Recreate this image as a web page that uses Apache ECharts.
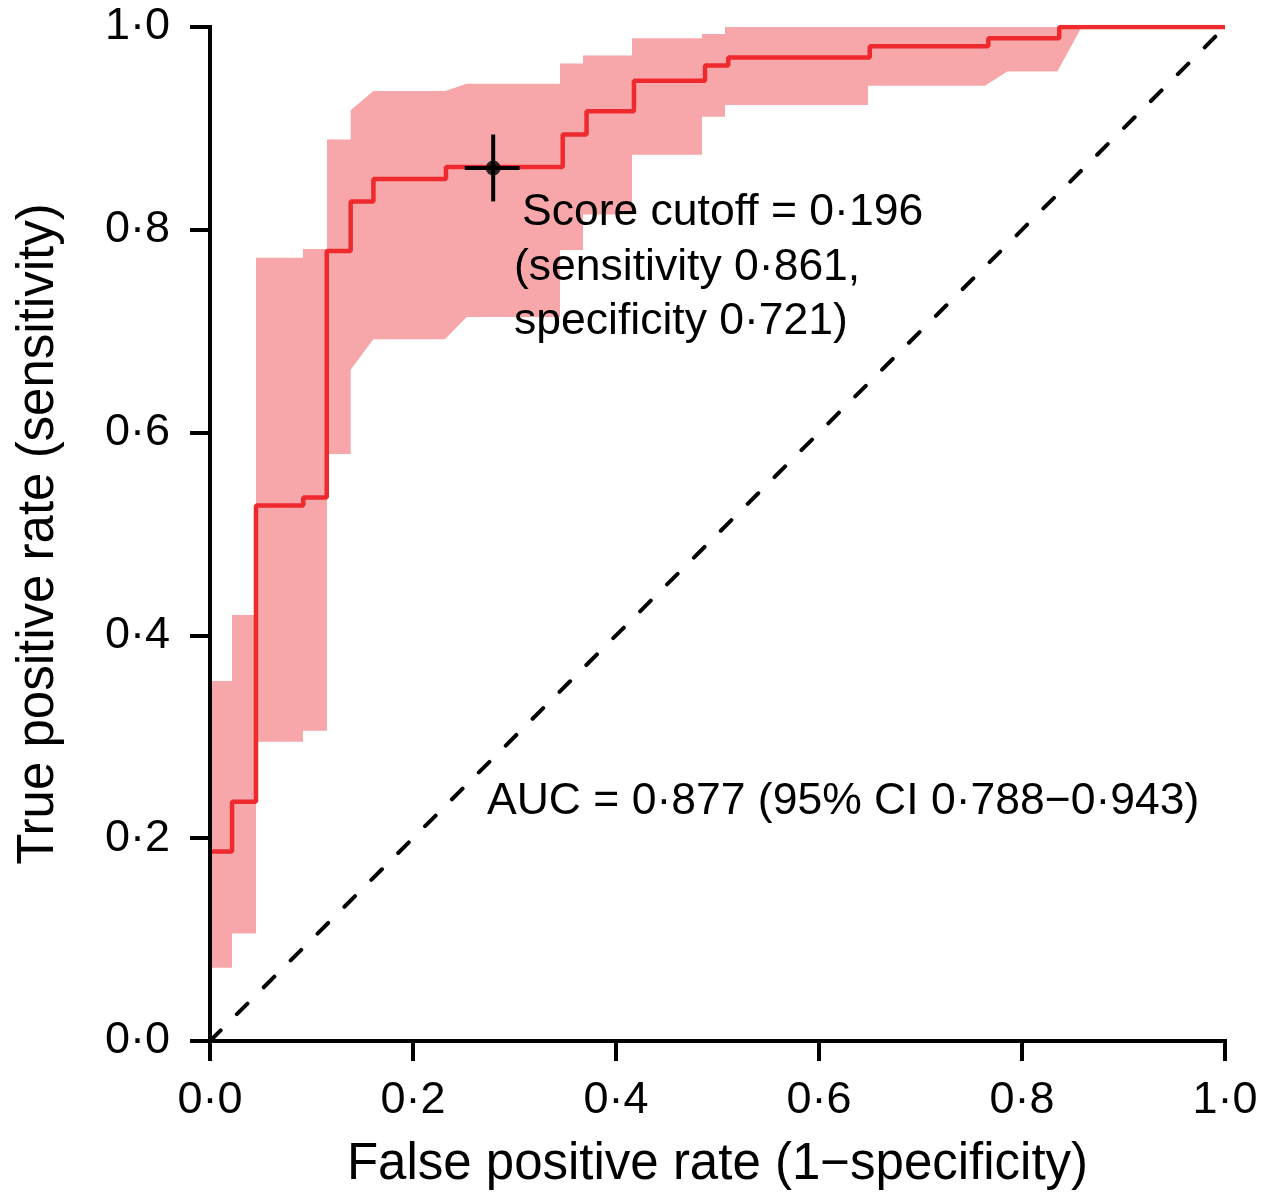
<!DOCTYPE html>
<html><head><meta charset="utf-8">
<script src="https://cdn.jsdelivr.net/npm/echarts/dist/echarts.min.js"></script>
<style>html,body{margin:0;padding:0;background:#fff}#c{width:1272px;height:1196px}</style>
</head><body><div id="c"></div>
<script>
// ROC curve (step points: FPR, TPR)
const rocFPR = [0, 0.0217, 0.0453, 0.0919, 0.115, 0.1386, 0.161, 0.2325, 0.3475, 0.371, 0.4177, 0.4877, 0.5106, 0.650, 0.7668, 0.8367, 1.0];
const rocTPR = [0.187, 0.236, 0.528, 0.536, 0.779, 0.828, 0.850, 0.862, 0.894, 0.917, 0.947, 0.962, 0.970, 0.981, 0.989, 1.0, 1.0];

// 95% CI band, upper boundary vertices
const bandUpperFPR = [0, 0.0217, 0.0217, 0.0453, 0.0453, 0.0916, 0.0916, 0.1153, 0.1153, 0.1386, 0.1386, 0.1609, 0.2315, 0.2529, 0.3448, 0.3448, 0.3675, 0.3675, 0.4158, 0.4158, 0.4847, 0.4847, 0.5074, 0.5074, 1.0];
const bandUpperTPR = [0.355, 0.355, 0.420, 0.420, 0.7725, 0.7725, 0.781, 0.781, 0.889, 0.889, 0.918, 0.937, 0.937, 0.944, 0.944, 0.964, 0.964, 0.972, 0.972, 0.989, 0.989, 0.993, 0.993, 1.0, 1.0];
// 95% CI band, lower boundary vertices
const bandLowerFPR = [0, 0.0217, 0.0217, 0.0453, 0.0453, 0.0916, 0.0916, 0.1153, 0.1153, 0.1386, 0.1386, 0.1609, 0.2315, 0.2529, 0.3448, 0.3448, 0.3675, 0.3675, 0.4158, 0.4158, 0.4847, 0.4847, 0.5074, 0.5074, 0.6483, 0.6483, 0.7635, 0.7855, 0.8348, 0.8588, 1.0];
const bandLowerTPR = [0.0723, 0.0723, 0.106, 0.106, 0.295, 0.295, 0.306, 0.306, 0.579, 0.579, 0.662, 0.692, 0.692, 0.714, 0.714, 0.780, 0.780, 0.815, 0.815, 0.874, 0.874, 0.9115, 0.9115, 0.923, 0.923, 0.942, 0.942, 0.956, 0.956, 1.0, 1.0];

// cutoff point and its CI cross
const cutoffPoint = [0.279, 0.861];
const cutoffTPRRange = [0.828, 0.894];
const cutoffFPRRange = [0.251, 0.305];

// chance diagonal
const diagonal = [[0, 0], [1, 1]];

// axis ticks
const tickValues = [0, 0.2, 0.4, 0.6, 0.8, 1.0];
const tickLabels = ['0·0', '0·2', '0·4', '0·6', '0·8', '1·0'];

// annotations
const cutoffLines = ['Score cutoff = 0·196', '(sensitivity 0·861,', 'specificity 0·721)'];
const aucText = 'AUC = 0·877 (95% CI 0·788−0·943)';

const FONT = "'Liberation Sans', Arial, Helvetica, sans-serif";
const chart = echarts.init(document.getElementById('c'), null, {renderer: 'canvas'});

function fmt(v) {
  const i = tickValues.findIndex(t => Math.abs(t - v) < 1e-9);
  return i >= 0 ? tickLabels[i] : '';
}

const axisCommon = {
  type: 'value', min: 0, max: 1, interval: 0.2, z: 10,
  axisLine: {show: true, lineStyle: {color: '#000', width: 4, cap: 'square'}},
  axisTick: {show: true, length: 20, lineStyle: {color: '#000', width: 4}},
  splitLine: {show: false},
  nameLocation: 'middle',
  nameTextStyle: {color: '#000', fontSize: 51, fontFamily: FONT},
};

chart.setOption({
  animation: false,
  backgroundColor: '#fff',
  grid: {left: 210, right: 47, top: 27, bottom: 155, containLabel: false},
  xAxis: Object.assign({}, axisCommon, {
    name: 'False positive rate (1−specificity)', nameGap: 98,
    axisLabel: {color: '#000', fontSize: 45, fontFamily: FONT, margin: 37, formatter: fmt}
  }),
  yAxis: Object.assign({}, axisCommon, {
    name: 'True positive rate (sensitivity)', nameGap: 146,
    axisLabel: {color: '#000', fontSize: 45, fontFamily: FONT, margin: 40, formatter: fmt}
  }),
  series: [
    {
      type: 'custom', z: 1, silent: true, clip: false,
      data: [[0, 0]],
      renderItem: function (params, api) {
        const pts = [];
        for (let i = 0; i < bandUpperFPR.length; i++) pts.push(api.coord([bandUpperFPR[i], bandUpperTPR[i]]));
        for (let i = bandLowerFPR.length - 1; i >= 0; i--) pts.push(api.coord([bandLowerFPR[i], bandLowerTPR[i]]));
        return {type: 'polygon', shape: {points: pts}, style: {fill: '#f7a7a9', stroke: null}};
      }
    },
    {
      type: 'line', z: 2, data: diagonal, showSymbol: false, silent: true,
      lineStyle: {color: '#000', width: 4, type: [15, 23], cap: 'round'}
    },
    {
      type: 'line', z: 3, step: 'end', showSymbol: false, silent: true,
      data: rocFPR.map((x, i) => [x, rocTPR[i]]),
      lineStyle: {color: '#ee2a2e', width: 4.5}
    },
    {
      type: 'line', z: 4, showSymbol: false, silent: true,
      data: [[cutoffPoint[0], cutoffTPRRange[0]], [cutoffPoint[0], cutoffTPRRange[1]]],
      lineStyle: {color: '#000', width: 4}
    },
    {
      type: 'line', z: 4, showSymbol: false, silent: true,
      data: [[cutoffFPRRange[0], cutoffPoint[1]], [cutoffFPRRange[1], cutoffPoint[1]]],
      lineStyle: {color: '#000', width: 4}
    },
    {
      type: 'scatter', z: 5, silent: true, data: [cutoffPoint],
      symbolSize: 15, itemStyle: {color: '#000'}
    }
  ]
});

// annotation text placed in data coordinates
const annPos = [[0.3074, 0.8166], [0.2995, 0.7623], [0.2995, 0.709]];
const aucPos = [0.2729, 0.2357];
const g = [];
cutoffLines.forEach((t, i) => {
  const p = chart.convertToPixel({gridIndex: 0}, annPos[i]);
  g.push({type: 'text', x: p[0], y: p[1], z: 20,
    style: {text: t, fill: '#000', font: '44.5px ' + FONT, textAlign: 'left', textVerticalAlign: 'middle'}});
});
const pa = chart.convertToPixel({gridIndex: 0}, aucPos);
g.push({type: 'text', x: pa[0], y: pa[1], z: 20,
  style: {text: aucText, fill: '#000', font: '44.5px ' + FONT, textAlign: 'left', textVerticalAlign: 'middle'}});
chart.setOption({graphic: g});
</script></body></html>
